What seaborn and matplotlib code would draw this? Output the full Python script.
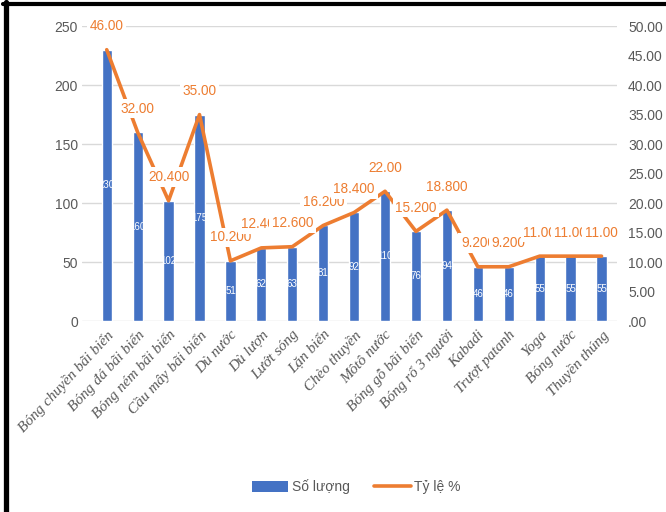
import matplotlib
matplotlib.use("Agg")
import matplotlib.pyplot as plt
import matplotlib.ticker as mticker
from matplotlib.patches import Patch
from matplotlib.lines import Line2D
import seaborn as sns
import numpy as np
import pandas as pd

categories = ["Bóng chuyền bãi biển", "Bóng đá bãi biển", "Bóng ném bãi biển",
              "Cầu mây bãi biển", "Dù nước", "Dù lượn", "Lướt sóng", "Lặn biển",
              "Chèo thuyền", "Môtô nước", "Bóng gỗ bãi biển", "Bóng rổ 3 người",
              "Kabadi", "Trượt patanh", "Yoga", "Bóng nước", "Thuyền thúng"]
counts = [230, 160, 102, 175, 51, 62, 63, 81, 92, 110, 76, 94, 46, 46, 55, 55, 55]
pcts = [46.0, 32.0, 20.4, 35.0, 10.2, 12.4, 12.6, 16.2, 18.4, 22.0, 15.2, 18.8,
        9.2, 9.2, 11.0, 11.0, 11.0]
pct_labels = ["46.00", "32.00", "20.400", "35.00", "10.200", "12.400", "12.600",
              "16.200", "18.400", "22.00", "15.200", "18.800", "9.200", "9.200",
              "11.00", "11.00", "11.00"]
legend_labels = ["Số lượng", "Tỷ lệ %"]

BLUE = "#4472C4"
ORANGE = "#ED7D31"
GRAY = "#595959"

sns.set_theme(style="white")
plt.rcParams["font.family"] = ["Liberation Sans", "DejaVu Sans"]

df = pd.DataFrame({"cat": categories, "count": counts, "pct": pcts})

fig = plt.figure(figsize=(6.66, 5.12), dpi=100)
ax = fig.add_axes([0.1231, 0.373, 0.8033, 0.576])

sns.barplot(data=df, x="cat", y="count", color=BLUE, width=0.33, saturation=1,
            ax=ax, zorder=2)
ax.set_ylim(0, 250)
ax.set_xlim(-0.8, len(categories) - 0.5)
ax.set_yticks(np.arange(0, 251, 50))
ax.yaxis.grid(True, color="#D9D9D9", linewidth=1, zorder=0)
ax.set_axisbelow(True)
for s in ax.spines.values():
    s.set_visible(False)
ax.set_xlabel("")
ax.set_ylabel("")
ax.tick_params(axis="y", length=0, labelsize=10, labelcolor=GRAY, pad=3)
ax.tick_params(axis="x", length=0, pad=5)
ax.set_xticks(range(len(categories)))
ax.set_xticklabels(categories, rotation=47, ha="right", rotation_mode="anchor",
                   family="Liberation Serif", style="italic", fontsize=11, color=GRAY)

# bar value labels
for i, c in enumerate(counts):
    ax.text(i, c / 2, str(c), ha="center", va="center", color="white",
            fontsize=7, zorder=3)

ax2 = ax.twinx()
sns.lineplot(x=np.arange(len(categories)), y=pcts, color=ORANGE, linewidth=2.6,
             ax=ax2, zorder=3)
ax2.set_ylim(0, 50)
ax2.set_yticks(np.arange(0, 51, 5))
ax2.yaxis.set_major_formatter(mticker.FuncFormatter(
    lambda v, p: ".00" if abs(v) < 1e-9 else f"{v:.2f}"))
ax2.tick_params(axis="y", length=0, labelsize=10, labelcolor=GRAY, pad=8)
for s in ax2.spines.values():
    s.set_visible(False)
ax2.set_ylabel("")
ax2.grid(False)

for i, (v, lab) in enumerate(zip(pcts, pct_labels)):
    ax2.annotate(lab, (i, v), xytext=(0, 17), textcoords="offset points",
                 ha="center", va="center", color=ORANGE, fontsize=9.8,
                 zorder=5,
                 bbox=dict(boxstyle="square,pad=0.2", fc="white", ec="none"))

handles = [Patch(facecolor=BLUE, edgecolor="none"),
           Line2D([0], [0], color=ORANGE, linewidth=2.6)]
fig.legend(handles, legend_labels, loc="center", bbox_to_anchor=(0.535, 0.049),
           ncol=2, frameon=False, fontsize=10, handlelength=2.6,
           handleheight=0.8, columnspacing=1.8, handletextpad=0.25,
           labelcolor=GRAY)

# partial frame: top and left edges only
fig.add_artist(Line2D([0.004, 1.0], [1 - 4 / 512, 1 - 4 / 512],
                      transform=fig.transFigure, color="black", linewidth=3))
fig.add_artist(Line2D([5.5 / 666, 5.5 / 666], [0, 1 - 2 / 512],
                      transform=fig.transFigure, color="black", linewidth=3.8))

fig.savefig("out.png", dpi=100)
